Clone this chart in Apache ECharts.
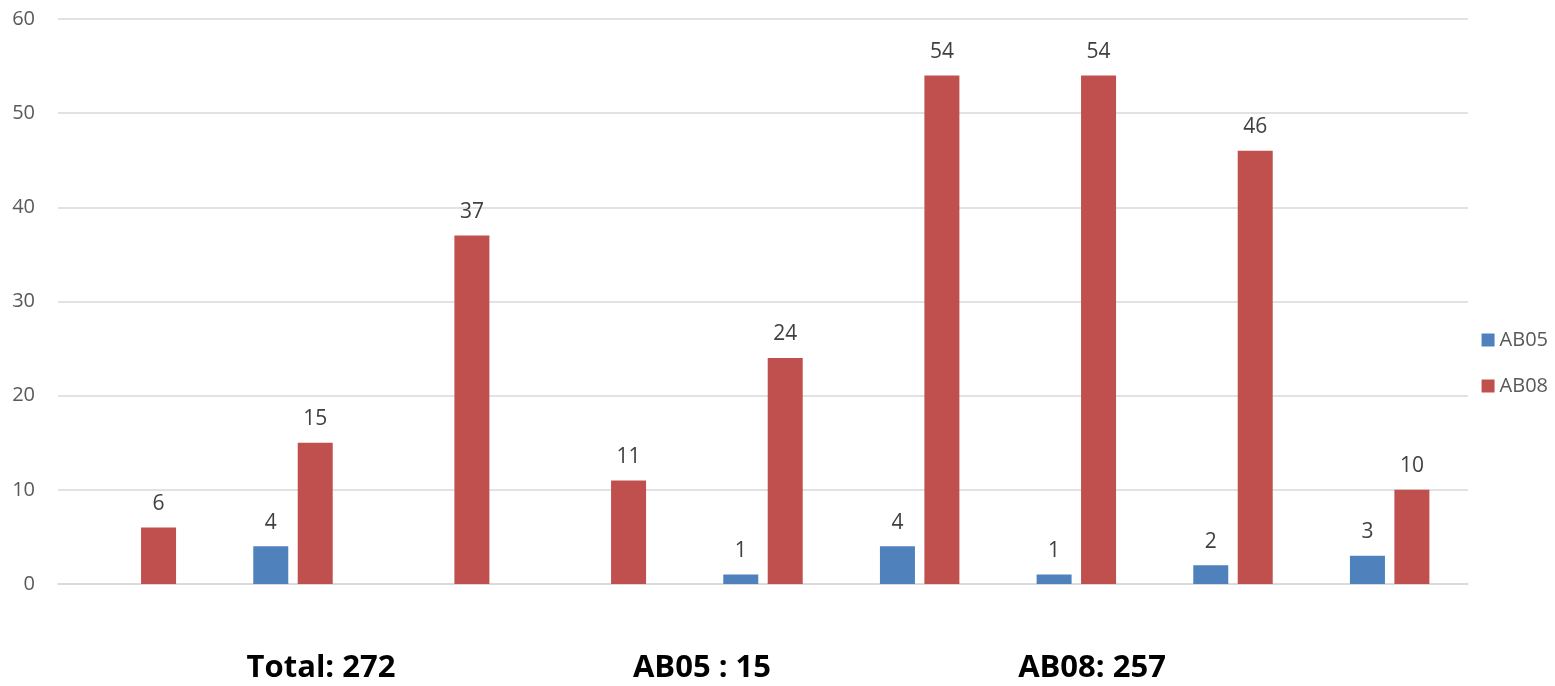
<!DOCTYPE html>
<html><head><meta charset="utf-8">
<script src="https://cdn.jsdelivr.net/npm/echarts@6/dist/echarts.min.js"></script>
<style>html,body{margin:0;padding:0;background:#fff}#c{width:1555px;height:686px}</style>
</head><body><div id="c"></div>
<script>
var categories = ['', '', '', '', '', '', '', '', ''];
var ab05 = [null, 4, null, null, 1, 4, 1, 2, 3];
var ab08 = [6, 15, 37, 11, 24, 54, 54, 46, 10];
var yTicks = [0, 10, 20, 30, 40, 50, 60];
var summaryTexts = ['Total: 272', 'AB05 : 15', 'AB08: 257'];

var FONT = '"Open Sans", "Noto Sans", sans-serif';
var chart = echarts.init(document.getElementById('c'));
var labelStyle = {show: true, position: 'top', distance: 13, color: '#404040', fontSize: 21, fontFamily: FONT};
chart.setOption({
  animation: false,
  grid: {left: 58, right: 87, top: 19, bottom: 102, containLabel: false},
  legend: {
    orient: 'vertical', right: 2, top: 325, itemWidth: 13, itemHeight: 13, itemGap: 26,
    icon: 'rect',
    textStyle: {color: '#595959', fontSize: 20, fontFamily: FONT},
    data: ['AB05', 'AB08']
  },
  xAxis: {
    type: 'category', data: categories,
    axisLine: {lineStyle: {color: '#d9d9d9', width: 1.5}},
    axisTick: {show: false}, axisLabel: {show: false}
  },
  yAxis: {
    type: 'value', min: yTicks[0], max: yTicks[yTicks.length - 1], interval: 10,
    axisLine: {show: false}, axisTick: {show: false},
    axisLabel: {color: '#595959', fontSize: 20, fontFamily: FONT, margin: 23},
    splitLine: {lineStyle: {color: '#d9d9d9', width: 1.5}}
  },
  series: [
    {name: 'AB05', type: 'bar', data: ab05, barWidth: 35, barGap: '27%',
     itemStyle: {color: '#4f81bd'}, label: labelStyle},
    {name: 'AB08', type: 'bar', data: ab08, barWidth: 35,
     itemStyle: {color: '#c0504d'}, label: labelStyle}
  ],
  graphic: [
    {type: 'text', x: 321, y: 668, style: {text: summaryTexts[0], fill: '#000', font: 'bold 31px ' + FONT, textAlign: 'center', textVerticalAlign: 'middle'}},
    {type: 'text', x: 702, y: 668, style: {text: summaryTexts[1], fill: '#000', font: 'bold 31px ' + FONT, textAlign: 'center', textVerticalAlign: 'middle'}},
    {type: 'text', x: 1092, y: 668, style: {text: summaryTexts[2], fill: '#000', font: 'bold 31px ' + FONT, textAlign: 'center', textVerticalAlign: 'middle'}}
  ]
});
</script></body></html>
